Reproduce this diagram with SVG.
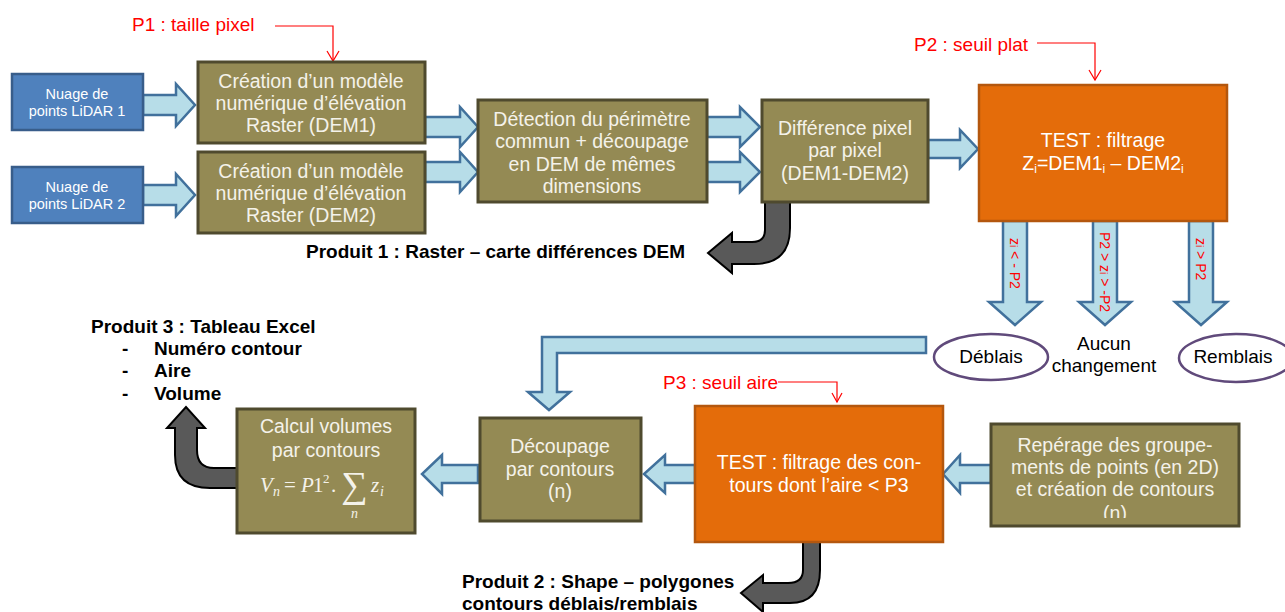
<svg xmlns="http://www.w3.org/2000/svg" width="1285" height="612" viewBox="0 0 1285 612">
<style>
.bluebox{fill:#4F81BD;stroke:#385D8A;stroke-width:2.5}
.olive{fill:#948A54;stroke:#4F4A2E;stroke-width:3}
.orange{fill:#E46C0A;stroke:#B4570E;stroke-width:2.5}
.arr{fill:#B7DDE8;stroke:#41719C;stroke-width:2.5;stroke-linejoin:miter}
.dark{fill:#595959;stroke:#000;stroke-width:2}
.ell{fill:#fff;stroke:#604A7B;stroke-width:2.5}
.red{fill:none;stroke:#FF0000;stroke-width:1.2}
.t{font-family:"Liberation Sans",Arial,sans-serif;font-size:19.5px;fill:#F4F2EA;text-anchor:middle}
.ts{font-family:"Liberation Sans",Arial,sans-serif;font-size:14.5px;fill:#FFFFFF;text-anchor:middle}
.tb{font-family:"Liberation Sans",Arial,sans-serif;font-size:19px;fill:#000;font-weight:bold}
.tk{font-family:"Liberation Sans",Arial,sans-serif;font-size:19px;fill:#000;text-anchor:middle}
.tr{font-family:"Liberation Sans",Arial,sans-serif;font-size:19px;fill:#FF0000}
.tv{font-family:"Liberation Sans",Arial,sans-serif;font-size:14px;fill:#FF0000}
.m{font-family:"Liberation Serif","Times New Roman",serif;font-style:italic;fill:#F4F2EA}
.mr{font-family:"Liberation Serif","Times New Roman",serif;fill:#F4F2EA}
</style>
<defs>
<clipPath id="clipRep"><rect x="991" y="424" width="248" height="94"/></clipPath>
</defs>
<rect width="1285" height="612" fill="#fff"/>

<g id="connectors">
<!-- LiDAR -> DEM -->
<polygon class="arr" points="143,95 176,95 176,84 195,105 176,126 176,115 143,115"/>
<polygon class="arr" points="143,185 176,185 176,174 195,195 176,216 176,205 143,205"/>
<!-- DEM -> Detection -->
<polygon class="arr" points="425,117 460,117 460,107 478,127 460,147 460,137 425,137"/>
<polygon class="arr" points="425,162 460,162 460,152 478,172 460,192 460,182 425,182"/>
<!-- Detection -> Diff -->
<polygon class="arr" points="707,117 740,117 740,107 760,127 740,147 740,137 707,137"/>
<polygon class="arr" points="707,162 740,162 740,152 760,172 740,192 740,182 707,182"/>
<!-- Diff -> TEST -->
<polygon class="arr" points="928,140 960,140 960,130 978,149 960,168 960,158 928,158"/>
<!-- TEST down arrows -->
<polygon class="arr" points="1003,221 1027,221 1027,302 1041,302 1015,325 989,302 1003,302"/>
<polygon class="arr" points="1093,221 1117,221 1117,302 1131,302 1105,325 1079,302 1093,302"/>
<polygon class="arr" points="1189,221 1213,221 1213,302 1227,302 1201,325 1175,302 1189,302"/>
<text class="tv" transform="translate(1010,238) rotate(90)">z<tspan font-size="10">i</tspan> &lt; - P2</text>
<text class="tv" transform="translate(1100,232) rotate(90)">P2 &gt; z<tspan font-size="10">i</tspan> &gt; -P2</text>
<text class="tv" transform="translate(1196,238) rotate(90)">z<tspan font-size="10">i</tspan> &gt; P2</text>
<!-- Big L arrow -->
<polygon class="arr" points="926,337 542,337 542,392 528,392 549,410 570,392 557,392 557,353 926,353"/>
<!-- Left arrows -->
<polygon class="arr" points="695,465 665,465 665,455 644,474 665,493 665,483 695,483"/>
<polygon class="arr" points="478,465 442,465 442,455 422,474 442,494 442,483 478,483"/>
<polygon class="arr" points="991,465 960,465 960,455 943,474 960,493 960,483 991,483"/>
<!-- Dark curved arrows -->
<path class="dark" d="M765,202 L790,202 L790,228 Q790,264 754,264 L732,264 L732,273 L708,253 L732,233 L732,242 L752,242 Q765,242 765,230 Z"/>
<path class="dark" d="M803,542 L820,542 L820,570 Q820,603 790,603 L763,603 L763,612 L741,593 L763,575 L763,583 L788,583 Q803,583 803,570 Z"/>
<path class="dark" d="M237,468 L214,468 Q197,468 197,450 L197,428 L205,428 L186,407 L167,428 L175,428 L175,455 Q175,488 210,488 L237,488 Z"/>
<!-- Red parameter arrows -->
<polyline class="red" points="275,26 333,26 333,61"/>
<polyline class="red" points="327,51 333,61 339,51"/>
<polyline class="red" points="1037,43 1095,43 1095,80"/>
<polyline class="red" points="1089,70 1095,80 1101,70"/>
<polyline class="red" points="778,382 837,382 837,402"/>
<polyline class="red" points="832,393 837,402 842,393"/>
</g>

<g id="p1label"><text class="tr" x="132" y="31">P1 : taille pixel</text></g>
<g id="p2label"><text class="tr" x="914" y="51">P2 : seuil plat</text></g>
<g id="p3label"><text class="tr" x="663" y="389">P3 : seuil aire</text></g>

<g id="lidar1">
<rect class="bluebox" x="12" y="74" width="131" height="56"/>
<text class="ts" x="77" y="99">Nuage de</text>
<text class="ts" x="77" y="116">points LiDAR 1</text>
</g>
<g id="lidar2">
<rect class="bluebox" x="12" y="167" width="131" height="56"/>
<text class="ts" x="77" y="192">Nuage de</text>
<text class="ts" x="77" y="209">points LiDAR 2</text>
</g>

<g id="dem1">
<rect class="olive" x="198" y="62" width="227" height="81"/>
<text class="t" x="311" y="88">Création d’un modèle</text>
<text class="t" x="311" y="110">numérique d’élévation</text>
<text class="t" x="311" y="132">Raster (DEM1)</text>
</g>
<g id="dem2">
<rect class="olive" x="198" y="152" width="227" height="81"/>
<text class="t" x="311" y="178">Création d’un modèle</text>
<text class="t" x="311" y="200">numérique d’élévation</text>
<text class="t" x="311" y="222">Raster (DEM2)</text>
</g>

<g id="detection">
<rect class="olive" x="478" y="100" width="229" height="102"/>
<text class="t" x="592" y="126">Détection du périmètre</text>
<text class="t" x="592" y="148">commun + découpage</text>
<text class="t" x="592" y="171">en DEM de mêmes</text>
<text class="t" x="592" y="193">dimensions</text>
</g>

<g id="difference">
<rect class="olive" x="762" y="100" width="166" height="102"/>
<text class="t" x="845" y="135">Différence pixel</text>
<text class="t" x="845" y="157">par pixel</text>
<text class="t" x="845" y="180">(DEM1-DEM2)</text>
</g>

<g id="produit1"><text class="tb" x="306" y="258">Produit 1 : Raster – carte différences DEM</text></g>

<g id="test1">
<rect class="orange" x="979" y="85" width="248" height="136"/>
<text class="t" x="1103" y="147" style="fill:#fff">TEST : filtrage</text>
<text class="t" x="1103" y="170" style="fill:#fff">Z<tspan font-size="12" dy="3">i</tspan><tspan dy="-3">=DEM1</tspan><tspan font-size="12" dy="3">i</tspan><tspan dy="-3"> – DEM2</tspan><tspan font-size="12" dy="3">i</tspan></text>
</g>

<g id="deblais">
<ellipse class="ell" cx="991" cy="357" rx="57" ry="23"/>
<text class="tk" x="991" y="363">Déblais</text>
</g>
<g id="aucun">
<text class="tk" x="1104" y="350">Aucun</text>
<text class="tk" x="1104" y="372">changement</text>
</g>
<g id="remblais">
<ellipse class="ell" cx="1236" cy="358" rx="57" ry="24"/>
<text class="tk" x="1233" y="363">Remblais</text>
</g>

<g id="produit3">
<text class="tb" x="91" y="333">Produit 3 : Tableau Excel</text>
<text class="tb" x="122" y="355">-</text><text class="tb" x="154" y="355">Numéro contour</text>
<text class="tb" x="122" y="377">-</text><text class="tb" x="154" y="377">Aire</text>
<text class="tb" x="122" y="400">-</text><text class="tb" x="154" y="400">Volume</text>
</g>

<g id="calcul">
<rect class="olive" x="237" y="409" width="178" height="124"/>
<text class="t" x="326" y="433">Calcul volumes</text>
<text class="t" x="326" y="457">par contours</text>
<text class="m" x="260" y="492" font-size="21">V</text>
<text class="m" x="273" y="496" font-size="14">n</text>
<text class="mr" x="284" y="492" font-size="21">=</text>
<text class="m" x="301" y="492" font-size="21">P</text>
<text class="mr" x="313" y="492" font-size="21">1</text>
<text class="mr" x="323" y="483" font-size="13">2</text>
<text class="mr" x="331" y="492" font-size="21">.</text>
<text class="mr" x="341" y="497" font-size="37">∑</text>
<text class="m" x="351" y="518" font-size="14">n</text>
<text class="m" x="371" y="492" font-size="21">z</text>
<text class="m" x="380" y="496" font-size="14">i</text>
</g>

<g id="decoupage">
<rect class="olive" x="480" y="418" width="161" height="103"/>
<text class="t" x="560" y="453">Découpage</text>
<text class="t" x="560" y="476">par contours</text>
<text class="t" x="560" y="498">(n)</text>
</g>

<g id="test2">
<rect class="orange" x="695" y="406" width="248" height="136"/>
<text class="t" x="819" y="469" style="fill:#fff">TEST : filtrage des con-</text>
<text class="t" x="819" y="492" style="fill:#fff">tours dont l’aire &lt; P3</text>
</g>

<g id="reperage">
<rect class="olive" x="991" y="424" width="248" height="102"/>
<g clip-path="url(#clipRep)">
<text class="t" x="1115" y="452">Repérage des groupe-</text>
<text class="t" x="1115" y="474">ments de points (en 2D)</text>
<text class="t" x="1115" y="496">et création de contours</text>
<text class="t" x="1115" y="520">(n)</text>
</g>
</g>

<g id="produit2">
<text class="tb" x="462" y="588">Produit 2 : Shape – polygones</text>
<text class="tb" x="462" y="610">contours déblais/remblais</text>
</g>
</svg>
